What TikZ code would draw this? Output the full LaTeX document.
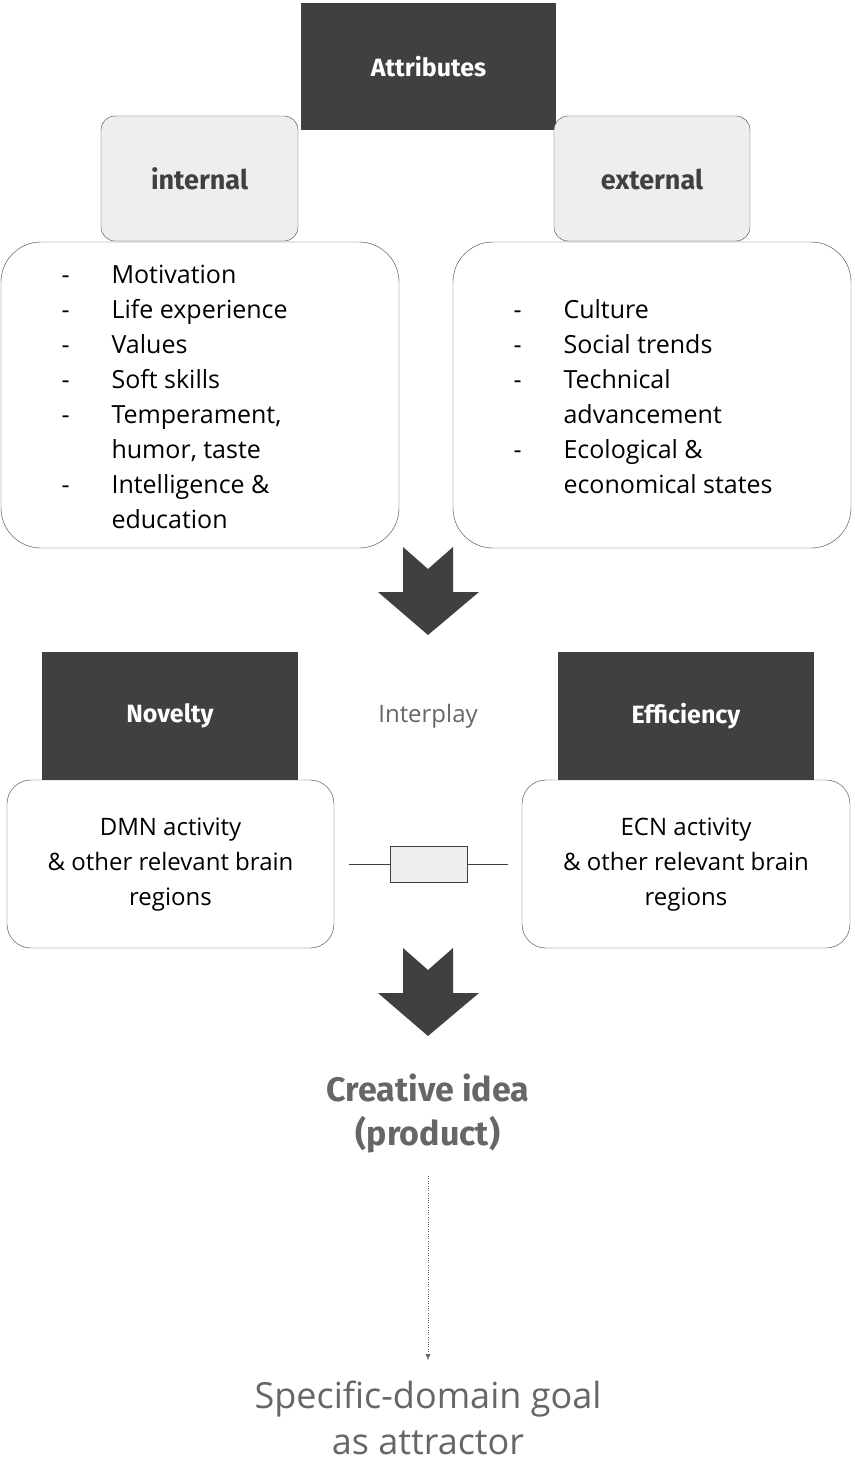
\documentclass[tikz,border=0pt]{standalone}
\usepackage{fontspec}
\usetikzlibrary{arrows.meta}
\setmainfont{Open Sans}
\newfontfamily\headfont{Fira Sans}
\definecolor{darkbox}{HTML}{404040}
\definecolor{lightbox}{HTML}{EEEEEE}
\definecolor{textgray}{HTML}{666666}
\tikzset{
  headbox/.style={fill=darkbox, text=white, font=\headfont\bfseries\fontsize{25}{30}\selectfont},
  tabbox/.style={draw=darkbox, fill=lightbox, rounded corners=14pt},
  tabtext/.style={text=darkbox, font=\headfont\bfseries\fontsize{27}{32}\selectfont},
  listbox/.style={draw=darkbox, fill=white, rounded corners=40pt},
  brainbox/.style={draw=darkbox, fill=white, rounded corners=24pt},
  listtext/.style={font=\fontsize{25}{35}\selectfont, align=left, anchor=north west},
  bigarrow/.style={fill=darkbox}
}
\begin{document}
\begin{tikzpicture}[x=1pt, y=-1pt]
    \useasboundingbox (0,0) rectangle (854,1458);

    % Attributes
    \node[headbox, minimum width=255pt, minimum height=127pt] (attr) at (428.5,66.5) {Attributes};
    \draw[tabbox] (101,116) rectangle (298,241);
    \node[tabtext] (internal) at (199.5,179) {internal};
    \draw[tabbox] (554,116) rectangle (750,241);
    \node[tabtext] (external) at (652,179) {external};

    % Lists
    \draw[listbox] (1,242) rectangle (399,548);
    \node[listtext] (intlist) at (58,255) {%
        \begin{tabular}{@{}p{50pt}@{}l@{}}
        - & Motivation\\ - & Life experience\\ - & Values\\ - & Soft skills\\
        - & Temperament,\\ & humor, taste\\ - & Intelligence \&\\ & education
        \end{tabular}};
    \draw[listbox] (453,242) rectangle (851,548);
    \node[listtext] (extlist) at (510,290) {%
        \begin{tabular}{@{}p{50pt}@{}l@{}}
        - & Culture\\ - & Social trends\\ - & Technical\\ & advancement\\
        - & Ecological \&\\ & economical states
        \end{tabular}};

    % Arrow 1
    \fill[bigarrow] (403,547) -- (428,569) -- (453,547) -- (453,592) -- (479,592)
        -- (428,635) -- (378,592) -- (403,592) -- cycle;

    % Novelty / Efficiency
    \node[headbox, minimum width=256pt, minimum height=128pt] (novelty) at (170,716) {Novelty};
    \node[headbox, minimum width=256pt, minimum height=128pt] (efficiency) at (686,716) {Efficiency};
    \node[text=textgray, font=\fontsize{24}{28}\selectfont] (interplay) at (428,716) {Interplay};

    \draw[brainbox] (7,780) rectangle (334,948);
    \node[align=center, font=\fontsize{24}{35}\selectfont] (dmn) at (170.5,865)
        {DMN activity\\ \& other relevant brain\\ regions};
    \draw[brainbox] (522,780) rectangle (850,948);
    \node[align=center, font=\fontsize{24}{35}\selectfont] (ecn) at (686,865)
        {ECN activity\\ \& other relevant brain\\ regions};

    % Interplay link
    \node[draw=darkbox, fill=lightbox, minimum width=77pt, minimum height=36pt, inner sep=0pt] (link) at (428.5,864) {};
    \coordinate (lk1) at (349,864);
    \coordinate (lk2) at (508,864);
    \draw[darkbox] (lk1) -- (link.west);
    \draw[darkbox] (link.east) -- (lk2);

    % Arrow 2
    \fill[bigarrow] (403,948) -- (428,970) -- (453,948) -- (453,993) -- (479,993)
        -- (428,1036) -- (378,993) -- (403,993) -- cycle;

    % Creative idea
    \node[text=textgray, align=center, font=\headfont\bfseries\fontsize{34}{44}\selectfont] (idea) at (428,1113)
        {Creative idea\\ (product)};
    \node[text=textgray, align=center, font=\fontsize{36}{46}\selectfont] (goal) at (428,1418)
        {Specific-domain goal\\ as attractor};
    \coordinate (dot1) at (428,1176);
    \coordinate (dot2) at (428,1360);
    \draw[textgray, dotted, -{Latex[length=6pt,width=5pt]}] (dot1) -- (dot2);
\end{tikzpicture}
\end{document}
